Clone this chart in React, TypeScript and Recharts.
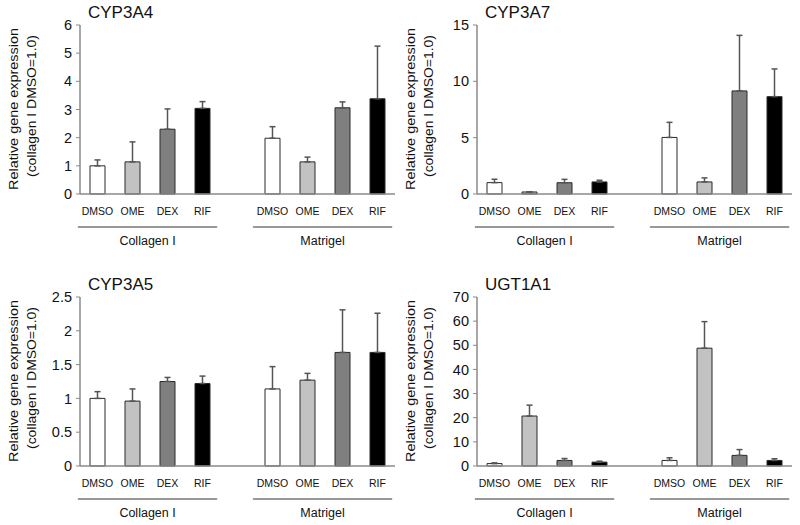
import { BarChart, Bar, Cell, XAxis, YAxis, ErrorBar } from 'recharts';

const treatments = ['DMSO', 'OME', 'DEX', 'RIF'];
const substrates = ['Collagen I', 'Matrigel'];
const treatmentColors = ['#ffffff', '#c2c2c2', '#7f7f7f', '#000000'];

// 8 values each: Collagen I (DMSO, OME, DEX, RIF), then Matrigel (DMSO, OME, DEX, RIF)
const cyp3a4Mean = [1.0, 1.14, 2.3, 3.04, 1.98, 1.14, 3.06, 3.38];
const cyp3a4Err = [0.21, 0.71, 0.72, 0.24, 0.41, 0.17, 0.21, 1.87];
const cyp3a4Ticks = [0, 1, 2, 3, 4, 5, 6];

const cyp3a7Mean = [1.01, 0.18, 1.0, 1.07, 5.02, 1.07, 9.15, 8.64];
const cyp3a7Err = [0.3, 0.02, 0.3, 0.15, 1.34, 0.36, 4.93, 2.46];
const cyp3a7Ticks = [0, 5, 10, 15];

const cyp3a5Mean = [1.0, 0.96, 1.25, 1.22, 1.14, 1.27, 1.68, 1.68];
const cyp3a5Err = [0.1, 0.18, 0.06, 0.11, 0.33, 0.1, 0.63, 0.58];
const cyp3a5Ticks = [0, 0.5, 1, 1.5, 2, 2.5];

const ugt1a1Mean = [1.0, 20.7, 2.3, 1.6, 2.3, 48.8, 4.4, 2.3];
const ugt1a1Err = [0.3, 4.5, 0.8, 0.4, 1.1, 11.0, 2.4, 0.7];
const ugt1a1Ticks = [0, 10, 20, 30, 40, 50, 60, 70];

const FONT = '"Liberation Sans", Arial, Helvetica, sans-serif';
const AXIS_GRAY = '#8a8a8a';
const BAND = 35; // width of one category slot (9 slots incl. spacer)

interface Row {
  key: string;
  label: string;
  treat: number;
  value: number | null;
  err: number[] | null;
}

function buildRows(mean: number[], err: number[]): Row[] {
  const rows: Row[] = [];
  substrates.forEach((_, g) => {
    treatments.forEach((t, i) => {
      const k = g * 4 + i;
      rows.push({ key: `g${g}t${i}`, label: t, treat: i, value: mean[k], err: [0, err[k]] });
    });
    if (g === 0) rows.push({ key: 'gap', label: '', treat: -1, value: null, err: null });
  });
  return rows;
}

function GroupTick(props: any) {
  const { x, y, payload } = props;
  const key: string = payload.value;
  if (key === 'gap') return <g />;
  const t = Number(key.slice(3));
  const g = Number(key.slice(1, 2));
  return (
    <g>
      <text x={x} y={y + 20.5} textAnchor="middle" fontSize={10.5} fill="#111" fontFamily={FONT}>
        {treatments[t]}
      </text>
      {t === 0 && (
        <>
          <line x1={x - 0.56 * BAND} x2={x + 3.42 * BAND} y1={y + 33} y2={y + 33} stroke="#333" strokeWidth={1} />
          <text x={x + 1.43 * BAND} y={y + 51} textAnchor="middle" fontSize={12.5} fill="#111" fontFamily={FONT}>
            {substrates[g]}
          </text>
        </>
      )}
    </g>
  );
}

function YLabel() {
  const cy = 109;
  return (
    <g fontFamily={FONT} fontSize={12} fill="#111">
      <text x={14} y={cy} transform={`rotate(-90 14 ${cy})`} textAnchor="middle" dominantBaseline="central"
        textLength={162} lengthAdjust="spacingAndGlyphs">
        Relative gene expression
      </text>
      <text x={32} y={cy - 3} transform={`rotate(-90 32 ${cy - 3})`} textAnchor="middle" dominantBaseline="central"
        textLength={142} lengthAdjust="spacingAndGlyphs">
        (collagen I  DMSO=1.0)
      </text>
    </g>
  );
}

interface PanelProps {
  title: string;
  mean: number[];
  err: number[];
  ticks: number[];
  left: number;
  top: number;
}

function Panel({ title, mean, err, ticks, left, top }: PanelProps) {
  const rows = buildRows(mean, err);
  return (
    <div style={{ position: 'absolute', left, top, width: 400, height: 262 }}>
      <div
        style={{
          position: 'absolute', left: 88, top: 4, fontSize: 17, lineHeight: '17px',
          fontFamily: FONT, color: '#111', whiteSpace: 'nowrap',
        }}
      >
        {title}
      </div>
      <BarChart width={400} height={262} data={rows} margin={{ top: 25, right: 5, left: 0, bottom: 8 }}>
        <XAxis
          dataKey="key"
          interval={0}
          tickLine={false}
          tickSize={0}
          tickMargin={0}
          height={60}
          axisLine={{ stroke: AXIS_GRAY, strokeWidth: 1.5 }}
          tick={<GroupTick />}
        />
        <YAxis
          width={80}
          domain={[0, ticks[ticks.length - 1]]}
          ticks={ticks}
          interval={0}
          tickSize={4}
          tickMargin={4}
          axisLine={{ stroke: AXIS_GRAY, strokeWidth: 1.5 }}
          tickLine={{ stroke: AXIS_GRAY }}
          tick={{ fontSize: 14.5, fill: '#111', fontFamily: FONT }}
          label={<YLabel />}
        />
        <Bar dataKey="value" barSize={15} stroke="#2a2a2a" strokeWidth={1} isAnimationActive={false}>
          {rows.map((r) => (
            <Cell key={r.key} fill={r.treat >= 0 ? treatmentColors[r.treat] : 'none'} />
          ))}
          <ErrorBar dataKey="err" direction="y" width={3} stroke="#555" strokeWidth={1.5} />
        </Bar>
      </BarChart>
    </div>
  );
}

export default function App() {
  return (
    <div style={{ position: 'absolute', left: 0, top: 0, width: 800, height: 525, background: '#fff', overflow: 'hidden' }}>
      <Panel title="CYP3A4" mean={cyp3a4Mean} err={cyp3a4Err} ticks={cyp3a4Ticks} left={0} top={0} />
      <Panel title="CYP3A7" mean={cyp3a7Mean} err={cyp3a7Err} ticks={cyp3a7Ticks} left={397} top={0} />
      <Panel title="CYP3A5" mean={cyp3a5Mean} err={cyp3a5Err} ticks={cyp3a5Ticks} left={0} top={272} />
      <Panel title="UGT1A1" mean={ugt1a1Mean} err={ugt1a1Err} ticks={ugt1a1Ticks} left={397} top={272} />
    </div>
  );
}
